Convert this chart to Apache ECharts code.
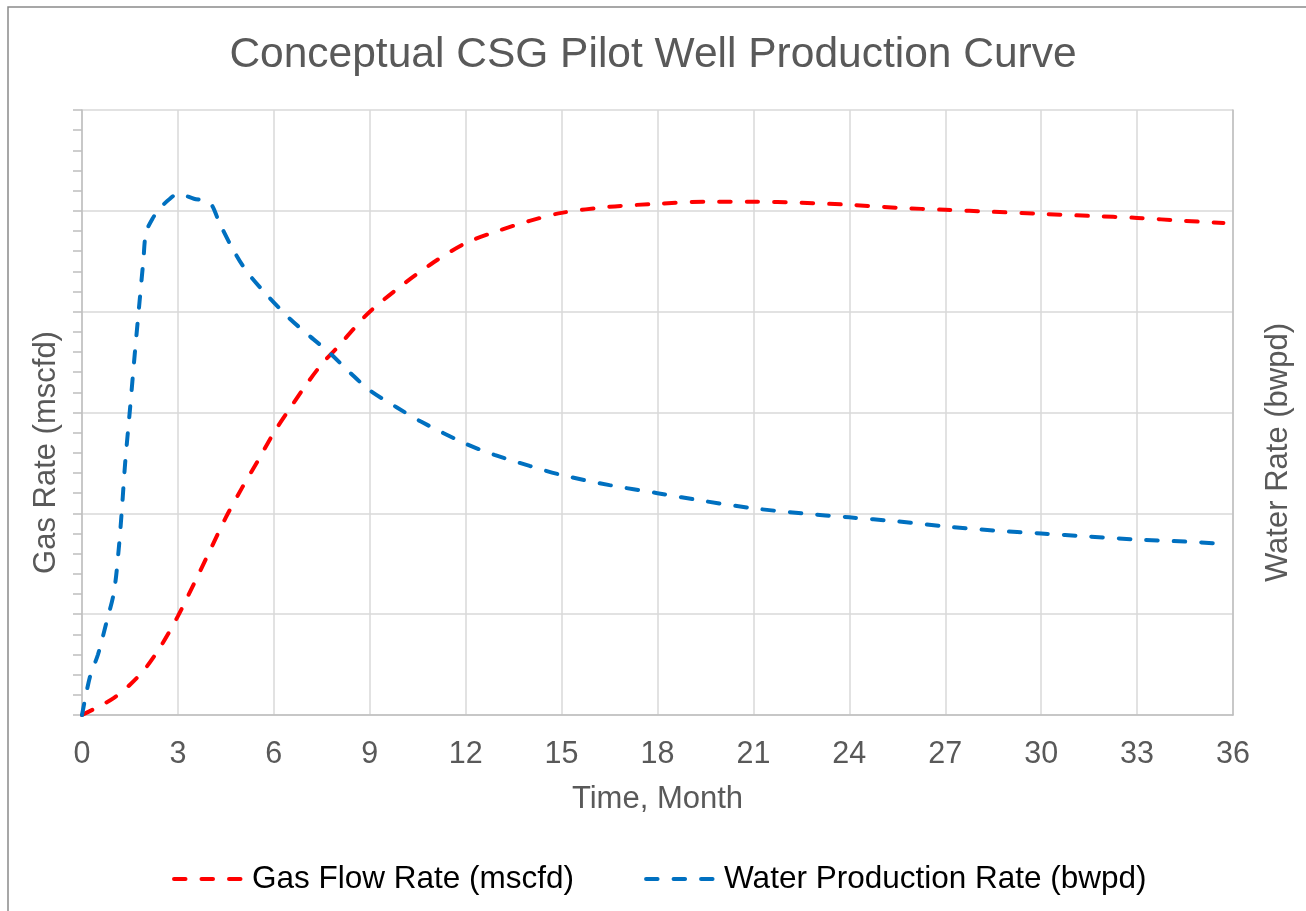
<!DOCTYPE html>
<html>
<head>
<meta charset="utf-8">
<script src="https://cdn.jsdelivr.net/npm/echarts@6/dist/echarts.min.js"></script>
<style>
html,body{margin:0;padding:0;background:#fff;}
#chart{width:1306px;height:911px;}
</style>
</head>
<body>
<div id="chart"></div>
<script>
const titleText = 'Conceptual CSG Pilot Well Production Curve';
const xTicks = [0,3,6,9,12,15,18,21,24,27,30,33,36];
const gasName = 'Gas Flow Rate (mscfd)';
const waterName = 'Water Production Rate (bwpd)';

const gasMonths = [0,0.5,1.0,1.5,2.0,2.5,3.0,3.5,4.0,4.5,5.0,5.5,6.0,6.5,7.0,7.5,8.0,8.5,9.0,10.0,11.0,12.0,13.0,14.0,15.0,16.5,18.0,19.5,21.0,22.5,24.0,25.5,27.0,28.5,30.0,31.5,33.0,34.5,35.7];
const gasRate   = [0,0.08,0.17,0.3,0.47,0.7,0.98,1.3,1.63,1.96,2.25,2.52,2.8,3.04,3.27,3.48,3.65,3.83,4.0,4.26,4.49,4.68,4.8,4.9,4.98,5.04,5.07,5.09,5.09,5.08,5.06,5.03,5.01,4.99,4.97,4.95,4.93,4.9,4.88];

const waterMonths = [0,0.25,0.5,0.75,1.0,1.15,1.25,1.35,1.5,1.65,1.8,1.92,2.0,2.2,2.45,2.75,3.0,3.5,4.0,4.3,4.7,5.15,5.8,6.5,7.15,7.75,8.4,9.0,9.85,10.6,12.0,12.9,14.0,15.0,16.5,18.0,19.5,21.0,22.5,24.0,25.5,27.0,28.5,30.0,31.5,33.0,34.5,35.6];
const waterRate   = [0,0.38,0.6,0.9,1.22,1.65,2.05,2.5,3.03,3.58,4.1,4.51,4.78,4.92,5.03,5.12,5.17,5.12,5.08,4.88,4.63,4.4,4.16,3.93,3.75,3.59,3.39,3.22,3.05,2.91,2.69,2.58,2.47,2.38,2.28,2.2,2.12,2.05,2.0,1.96,1.92,1.87,1.83,1.8,1.77,1.74,1.72,1.70];

const gasData = gasMonths.map((m,i)=>[m, gasRate[i]]);
const waterData = waterMonths.map((m,i)=>[m, waterRate[i]]);

const FONT = '"Liberation Sans", Arial, sans-serif';
const chart = echarts.init(document.getElementById('chart'), null, {renderer:'canvas'});
chart.setOption({
  animation:false,
  backgroundColor:'#ffffff',
  textStyle:{fontFamily:FONT},
  graphic:[{
    type:'rect', x:8, y:7, silent:true,
    shape:{x:0,y:0,width:1400,height:1000},
    style:{fill:'none', stroke:'#8a8a8a', lineWidth:1.5}
  }],
  title:{
    text:titleText, left:'center', top:29,
    textStyle:{fontFamily:FONT, fontSize:42.5, fontWeight:'normal', color:'#595959'}
  },
  grid:{left:82, right:73, top:110, bottom:196, containLabel:false},
  legend:{
    left:167, top:858,
    itemWidth:76, itemHeight:4, itemGap:70,
    lineStyle:{width:4},
    textStyle:{fontFamily:FONT, fontSize:31.5, color:'#000', padding:[0,0,0,-3]},
    data:[gasName, waterName]
  },
  xAxis:{
    type:'value', min:0, max:36, interval:3,
    name:'Time, Month', nameLocation:'middle', nameGap:69,
    nameTextStyle:{fontFamily:FONT, fontSize:31, color:'#595959'},
    axisLine:{lineStyle:{color:'#bfbfbf', width:1.5}},
    axisTick:{show:false},
    axisLabel:{fontFamily:FONT, fontSize:30.5, color:'#595959', margin:24},
    splitLine:{show:true, lineStyle:{color:'#d9d9d9', width:1.5}}
  },
  yAxis:[{
    type:'value', min:0, max:6, interval:1, position:'left',
    name:'Gas Rate (mscfd)', nameLocation:'middle', nameGap:20, nameRotate:90,
    nameTextStyle:{fontFamily:FONT, fontSize:31, color:'#595959', padding:[0,80,0,0]},
    axisLine:{show:true, lineStyle:{color:'#bfbfbf', width:1.5}},
    axisTick:{show:true, length:9, lineStyle:{color:'#bfbfbf', width:1.5}},
    minorTick:{show:true, splitNumber:5, length:9, lineStyle:{color:'#bfbfbf', width:1.5}},
    axisLabel:{show:false},
    splitLine:{show:true, lineStyle:{color:'#d9d9d9', width:1.5}}
  },{
    type:'value', min:0, max:6, interval:1, position:'right',
    name:'Water Rate (bwpd)', nameLocation:'middle', nameGap:30, nameRotate:90,
    nameTextStyle:{fontFamily:FONT, fontSize:31, color:'#595959', padding:[0,80,0,0]},
    axisLine:{show:true, lineStyle:{color:'#bfbfbf', width:1.5}},
    axisTick:{show:false},
    axisLabel:{show:false},
    splitLine:{show:false}
  }],
  series:[{
    name:gasName, type:'line', yAxisIndex:0, data:gasData,
    smooth:0.3, showSymbol:false, symbol:'none',
    itemStyle:{color:'#ff0000'},
    lineStyle:{color:'#ff0000', width:4, type:[11.5,16], cap:'round'}
  },{
    name:waterName, type:'line', yAxisIndex:0, data:waterData,
    smooth:0.3, showSymbol:false, symbol:'none',
    itemStyle:{color:'#0070c0'},
    lineStyle:{color:'#0070c0', width:4, type:[11.5,16], cap:'round'}
  }]
});
</script>
</body>
</html>
